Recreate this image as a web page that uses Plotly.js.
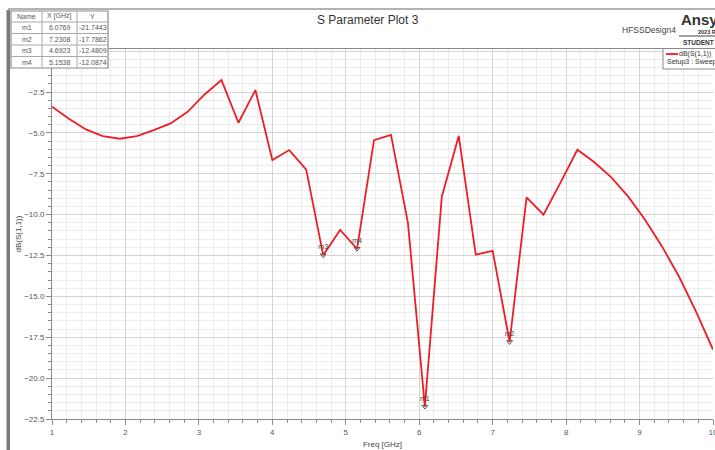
<!DOCTYPE html>
<html>
<head>
<meta charset="utf-8">
<script src="https://cdn.plot.ly/plotly-3.0.1.min.js"></script>
<style>html,body{margin:0;padding:0;background:#fff;}#chart{width:715px;height:450px;}</style>
</head>
<body>
<div id="chart"></div>
<script>
// ---- data ----
var freqGHz = [1.0000,1.2308,1.4615,1.6923,1.9231,2.1538,2.3846,2.6154,2.8462,3.0769,
               3.3077,3.5385,3.7692,4.0000,4.2308,4.4615,4.6923,4.9231,5.1538,5.3846,
               5.6154,5.8462,6.0769,6.3077,6.5385,6.7692,7.0000,7.2308,7.4615,7.6923,
               7.9231,8.1538,8.3846,8.6154,8.8462,9.0769,9.3077,9.5385,9.7692,10.0000];
var s11dB = [-3.40,-4.14,-4.79,-5.20,-5.36,-5.20,-4.83,-4.42,-3.71,-2.65,
             -1.77,-4.38,-2.38,-6.66,-6.05,-7.25,-12.48,-10.94,-12.09,-5.45,
             -5.12,-10.50,-21.74,-8.90,-5.18,-12.45,-12.22,-17.79,-8.94,-10.00,
             -8.04,-6.03,-6.80,-7.72,-8.90,-10.33,-11.96,-13.80,-15.93,-18.25];
var markerNames = ['m1','m2','m3','m4'];
var markerX = ['6.0769','7.2308','4.6923','5.1538'];
var markerY = ['-21.7443','-17.7862','-12.4809','-12.0874'];
var tableHeader = ['Name','X [GHz]','Y'];
var traceName = 'dB(S(1,1))';
var setupName = 'Setup3 : Sweep';

// ---- layout helpers (pixel -> paper) ----
var L = 52, R = 2, T = 49, B = 31, W = 715, H = 450;
var PW = W - L - R, PH = H - T - B;
function px(x){ return (x - L) / PW; }
function py(y){ return (H - B - y) / PH; }

var shapes = [], ann = [];
var fontF = 'Liberation Sans, Arial, sans-serif';

// window frame
shapes.push({type:'rect', xref:'paper', yref:'paper', x0:px(6.5), x1:px(10), y0:py(450), y1:py(10),
  fillcolor:'#7a7a7a', line:{width:0}, layer:'above'});
shapes.push({type:'line', xref:'paper', yref:'paper', x0:px(8), x1:px(716), y0:py(9), y1:py(9),
  line:{color:'#9a9a9a', width:1.5}, layer:'above'});

// marker table
var tx0 = 11, tx1 = 108, ty0 = 11, ty1 = 68;
var colEdges = [tx0, 42, 77, tx1];
var rowEdges = [ty0, 22, 33.5, 45, 56.5, ty1];
shapes.push({type:'rect', xref:'paper', yref:'paper', x0:px(tx0), x1:px(tx1), y0:py(ty1), y1:py(ty0),
  fillcolor:'#ffffff', line:{color:'#8a8a8a', width:1.2}, layer:'above'});
for (var i = 1; i < rowEdges.length - 1; i++) {
  shapes.push({type:'line', xref:'paper', yref:'paper', x0:px(tx0), x1:px(tx1), y0:py(rowEdges[i]), y1:py(rowEdges[i]),
    line:{color:'#a8a8a8', width:1}, layer:'above'});
}
for (var j = 1; j < colEdges.length - 1; j++) {
  shapes.push({type:'line', xref:'paper', yref:'paper', x0:px(colEdges[j]), x1:px(colEdges[j]), y0:py(ty1), y1:py(ty0),
    line:{color:'#a8a8a8', width:1}, layer:'above'});
}
function cellText(txt, col, row){
  ann.push({xref:'paper', yref:'paper', x:px((colEdges[col]+colEdges[col+1])/2), y:py((rowEdges[row]+rowEdges[row+1])/2),
    text:txt, showarrow:false, xanchor:'center', yanchor:'middle', font:{family:fontF, size:7, color:'#555'}});
}
for (var c = 0; c < 3; c++) cellText(tableHeader[c], c, 0);
for (var r = 0; r < markerNames.length; r++) {
  cellText(markerNames[r], 0, r+1);
  cellText(markerX[r], 1, r+1);
  cellText(markerY[r], 2, r+1);
}

// title and header texts
ann.push({xref:'paper', yref:'paper', x:px(368), y:py(20), text:'S Parameter Plot 3', showarrow:false,
  xanchor:'center', yanchor:'middle', font:{family:fontF, size:12, color:'#333'}});
ann.push({xref:'paper', yref:'paper', x:px(620), y:py(30), text:'HFSSDesign4', showarrow:false,
  xanchor:'left', yanchor:'middle', font:{family:fontF, size:8.5, color:'#444'}});
ann.push({xref:'paper', yref:'paper', x:px(679), y:py(20), text:'<b>Ansys</b>', showarrow:false,
  xanchor:'left', yanchor:'middle', font:{family:fontF, size:15, color:'#333'}});
ann.push({xref:'paper', yref:'paper', x:px(696), y:py(32.5), text:'<b>2023 R1</b>', showarrow:false,
  xanchor:'left', yanchor:'middle', font:{family:fontF, size:5.5, color:'#333'}});
shapes.push({type:'line', xref:'paper', yref:'paper', x0:px(679), x1:px(716), y0:py(36), y1:py(36),
  line:{color:'#444', width:1}, layer:'above'});
ann.push({xref:'paper', yref:'paper', x:px(681), y:py(43), text:'<b>STUDENT</b>', showarrow:false,
  xanchor:'left', yanchor:'middle', font:{family:fontF, size:6.5, color:'#333'}});

// legend box (drawn)
shapes.push({type:'rect', xref:'paper', yref:'paper', x0:px(663), x1:px(717), y0:py(69), y1:py(48.5),
  fillcolor:'#ffffff', line:{color:'#8a8a8a', width:1}, layer:'above'});
shapes.push({type:'line', xref:'paper', yref:'paper', x0:px(666), x1:px(678), y0:py(54), y1:py(54),
  line:{color:'rgb(237,30,38)', width:1.8}, layer:'above'});
ann.push({xref:'paper', yref:'paper', x:px(713), y:py(54), text:traceName, showarrow:false,
  xanchor:'right', yanchor:'middle', font:{family:fontF, size:7, color:'#333'}});
ann.push({xref:'paper', yref:'paper', x:px(664.5), y:py(62.5), text:setupName, showarrow:false,
  xanchor:'left', yanchor:'middle', font:{family:fontF, size:7, color:'#333'}});

var markerXNum = markerX.map(Number), markerYNum = markerY.map(Number);

var traces = [
  {x:freqGHz, y:s11dB, type:'scatter', mode:'lines', name:traceName,
   line:{color:'rgb(237,30,38)', width:1.8}, showlegend:false, hoverinfo:'x+y'},
  {x:markerXNum, y:markerYNum, type:'scatter', mode:'markers+text', text:markerNames,
   textposition:'top center', textfont:{family:fontF, size:7, color:'#444'},
   marker:{symbol:'triangle-down-open', size:5, color:'#555', line:{width:1, color:'#555'}},
   showlegend:false, cliponaxis:false}
];

var axisCommon = {
  showline:true, linecolor:'#8a8a8a', linewidth:1,
  ticks:'outside', ticklen:5, tickcolor:'#8a8a8a', tickwidth:1,
  tickfont:{family:fontF, size:8, color:'#555'},
  gridcolor:'#d4d4d4', gridwidth:1, zeroline:false, automargin:false,
  ticklabeloverflow:'allow'
};

var layout = {
  width:W, height:H,
  margin:{l:L, r:R, t:T, b:B, pad:0},
  paper_bgcolor:'#ffffff', plot_bgcolor:'#ffffff',
  showlegend:false,
  xaxis:Object.assign({}, axisCommon, {
    range:[1,10], tick0:1, dtick:1, mirror:true,
    minor:{dtick:0.2, showgrid:true, gridcolor:'#ececec', ticks:'outside', ticklen:3, tickcolor:'#8a8a8a'},
    title:{text:'Freq [GHz]', font:{family:fontF, size:8, color:'#444'}, standoff:5}
  }),
  yaxis:Object.assign({}, axisCommon, {
    range:[-22.5,0.13], tick0:0, dtick:2.5, tickformat:'.1f',
    minor:{dtick:0.5, showgrid:true, gridcolor:'#ececec', ticks:'outside', ticklen:3, tickcolor:'#8a8a8a'},
    title:{text:'dB(S(1,1))', font:{family:fontF, size:8, color:'#444'}, standoff:1}
  }),
  shapes:shapes,
  annotations:ann
};

Plotly.newPlot('chart', traces, layout, {staticPlot:true, displayModeBar:false});
</script>
</body>
</html>
